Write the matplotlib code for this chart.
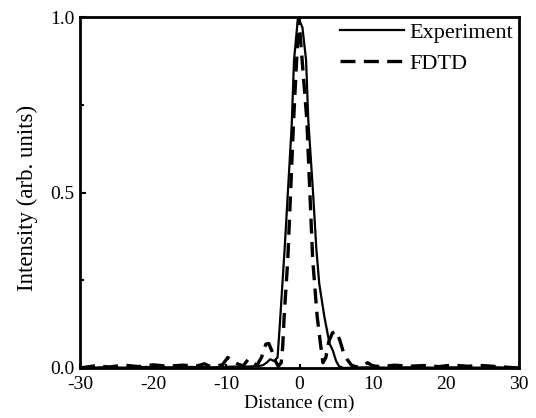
import numpy as np
import matplotlib
matplotlib.use("Agg")
import matplotlib.pyplot as plt
from matplotlib.ticker import MultipleLocator

plt.rcParams.update({
    "font.family": "serif",
    "font.serif": ["Liberation Serif", "DejaVu Serif"],
    "font.size": 14,
})

# ---------------- data ----------------
exp_x = [-30, -27, -24, -21, -18, -15, -12, -9, -7, -5.5, -5.0, -4.5, -4.0, -3.5,
         -3.0, -2.7, -2.0, -1.07, -0.75, -0.2, 0.4, 0.9, 1.2, 1.85, 2.3, 2.7,
         3.4, 4.1, 4.55, 5.0, 5.4, 6.0, 9, 12, 15, 18, 21, 24, 27, 30]
exp_y = [0.0, 0.002, 0.001, 0.003, 0.002, 0.003, 0.002, 0.004, 0.004, 0.006, 0.008, 0.015, 0.025, 0.02,
         0.03, 0.12, 0.35, 0.69, 0.877, 1.0, 0.97, 0.877, 0.707, 0.5, 0.34, 0.24,
         0.146, 0.07, 0.05, 0.02, 0.005, 0.0, 0.002, 0.001, 0.002, 0.001, 0.002, 0.001, 0.002, 0.0]

fdtd_x = [-30, -28, -26, -24, -22, -20, -18, -16, -14, -13.0, -12.4, -11.5, -10.5,
          -9.8, -9.2, -8.5, -7.7, -7.0, -6.4, -5.8, -5.2, -4.6, -4.2, -3.8, -3.3,
          -2.9, -2.5, -2.3, -2.1, -1.6, -0.8, -0.1, 1.0, 1.8, 2.4, 2.8, 3.2, 3.6,
          4.0, 4.5, 5.0, 5.5, 6.0, 6.5, 7.1, 7.8, 8.6, 9.3, 10.0, 11, 13, 15, 17,
          19, 21, 23, 25, 27, 30]
fdtd_y = [0.0, 0.006, 0.003, 0.008, 0.004, 0.009, 0.005, 0.008, 0.006, 0.012, 0.006, 0.004, 0.01,
          0.03, 0.02, 0.012, 0.006, 0.025, 0.015, 0.008, 0.03, 0.068, 0.07, 0.05, 0.02,
          0.005, 0.015, 0.06, 0.145, 0.31, 0.707, 1.0, 0.707, 0.31, 0.15, 0.08, 0.015, 0.03,
          0.075, 0.1, 0.105, 0.08, 0.045, 0.025, 0.008, 0.003, 0.004, 0.015, 0.006, 0.004, 0.008, 0.005, 0.007,
          0.004, 0.008, 0.005, 0.007, 0.004, 0.0]

x_ticks = [-30, -20, -10, 0, 10, 20, 30]
y_ticks = [0.0, 0.5, 1.0]

# ---------------- figure ----------------
fig = plt.figure(figsize=(5.36, 4.18), dpi=100)
ax = fig.add_axes([80 / 536, 1 - 368 / 418, 439 / 536, 351 / 418])

ax.plot(exp_x, exp_y, color="black", lw=1.6, label="Experiment")
ax.plot(fdtd_x, fdtd_y, color="black", lw=2.4, linestyle=(0, (4.5, 2.5)), label="FDTD")

ax.set_xlim(-30, 30)
ax.set_ylim(0, 1.0)
ax.set_xticks(x_ticks)
ax.set_xticklabels([str(t) for t in x_ticks])
ax.set_yticks(y_ticks)
ax.set_yticklabels(["0.0", "0.5", "1.0"])
ax.yaxis.set_minor_locator(MultipleLocator(0.25))

ax.tick_params(which="major", direction="in", length=4, width=1.5, pad=4)
ax.tick_params(which="minor", direction="in", length=3, width=1.5)
ax.tick_params(axis="x", length=3, pad=6)
for s in ax.spines.values():
    s.set_linewidth(2.0)

ax.set_xlabel("Distance (cm)", labelpad=1)
ax.set_ylabel("Intensity (arb. units)", fontsize=16.5)
ax.yaxis.set_label_coords(-0.095, 0.485)

ax.legend(loc="upper right", frameon=False, fontsize=16, handlelength=2.9,
          handletextpad=0.25, labelspacing=0.45, borderaxespad=0.1, borderpad=0.15)

fig.savefig("out.png", dpi=100)
